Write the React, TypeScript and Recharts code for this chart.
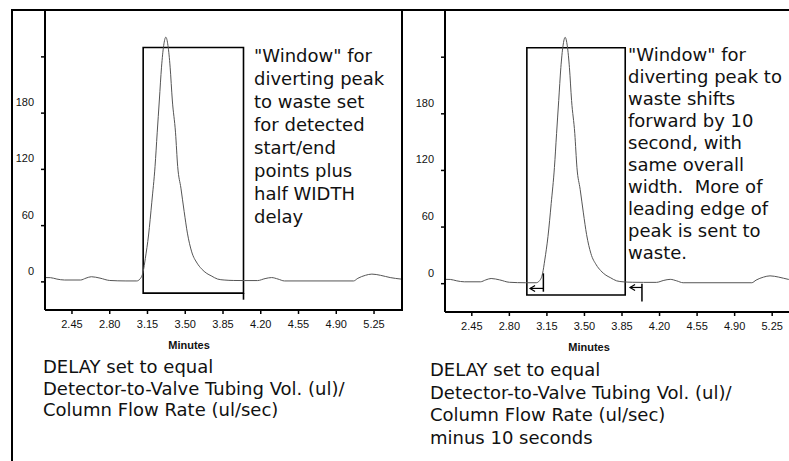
import { LineChart, Line, XAxis, YAxis, ReferenceArea, ReferenceLine, Label } from 'recharts';

// chromatogram trace (same run in both panels)
const minutes = [
  2.2, 2.25, 2.31, 2.38, 2.53, 2.58, 2.63, 2.71, 2.8, 2.95, 3.05, 3.08, 3.11, 3.13, 3.16,
  3.19, 3.22, 3.24, 3.26, 3.28, 3.3, 3.32, 3.34, 3.36, 3.38, 3.41, 3.43, 3.46, 3.49, 3.52,
  3.56, 3.61, 3.65, 3.7, 3.74, 3.8, 3.86, 3.95, 4.05, 4.17, 4.24, 4.3, 4.36, 4.42, 5.06,
  5.1, 5.17, 5.23, 5.31, 5.4, 5.5,
];
const signal = [
  4.6, 4.5, 3, 2, 2, 4, 5.5, 4, 1.5, 1, 1, 3, 11, 25, 50,
  85, 123, 159, 194, 229, 252, 261, 252, 229, 194, 159, 123, 100, 75, 52,
  32, 20, 14, 9, 6.5, 3, 2, 1.5, 1.4, 1.4, 3.5, 4.6, 3, 1, 1,
  3.8, 7, 8.3, 7, 4.6, 3,
];

const xTicks = [2.45, 2.8, 3.15, 3.5, 3.85, 4.2, 4.55, 4.9, 5.25];
const xTickLabels = ['2.45', '2.80', '3.15', '3.50', '3.85', '4.20', '4.55', '4.90', '5.25'];
const yTicks = [0, 60, 120, 180, 240];
const yTickLabels = ['0', '60', '120', '180', ''];

// diverting windows: start, end, top, bottom (minutes / signal units)
const leftWindow = [3.11, 4.04, 250, -12];
const leftWindowTail = -19;
const rightWindow = [2.963, 3.88, 250, -12];

// original window edges and where the arrows point to
const shiftEdges = [3.117, 4.036];
const shiftTargets = [2.993, 3.925];
const shiftTops = [11, 0];
const shiftBottoms = [-8.5, -19];
const shiftArrowY = [-5, -4];

const leftNote = ['"Window" for', 'diverting peak', 'to waste set', 'for detected', 'start/end', 'points plus', 'half WIDTH', 'delay'];
const rightNote = ['"Window" for', 'diverting peak to', 'waste shifts', 'forward by 10', 'second, with', 'same overall', 'width.  More of', 'leading edge of', 'peak is sent to', 'waste.'];
const leftCaption = ['DELAY set to equal', 'Detector-to-Valve Tubing Vol. (ul)/', 'Column Flow Rate (ul/sec)'];
const rightCaption = ['DELAY set to equal', 'Detector-to-Valve Tubing Vol. (ul)/', 'Column Flow Rate (ul/sec)', 'minus 10 seconds'];

const data = minutes.map((m, i) => ({ m, v: signal[i] }));

const tickFont = 'Liberation Sans, Arial, sans-serif';
const textFont = 'DejaVu Sans, Verdana, sans-serif';

const XTick = ({ x, y, payload }: any) => {
  const i = xTicks.indexOf(payload.value);
  return (
    <text x={x} y={y + 12} textAnchor="middle" fontSize={11} fontFamily={tickFont} fill="#111">
      {xTickLabels[i]}
    </text>
  );
};

const YTick = ({ x, y, payload }: any) => {
  const i = yTicks.indexOf(payload.value);
  return (
    <text x={x - 5} y={y - 7} textAnchor="end" fontSize={11} fontFamily={tickFont} fill="#111">
      {yTickLabels[i]}
    </text>
  );
};

const arrowShape = (p: any) => (
  <g>
    <line x1={p.x1} y1={p.y1} x2={p.x2} y2={p.y2} stroke="#000" strokeWidth={1.2} />
    <path
      d={`M${p.x2 + 5},${p.y2 - 3} L${p.x2},${p.y2} L${p.x2 + 5},${p.y2 + 3}`}
      fill="none"
      stroke="#000"
      strokeWidth={1.2}
    />
  </g>
);

function Panel({ left, width, plotHeight, win, shifted }: any) {
  return (
    <div style={{ position: 'absolute', left, top: 0 }}>
      <LineChart
        width={width}
        height={plotHeight + 10 + 45}
        data={data}
        margin={{ top: 10, right: 0, bottom: 0, left: 0 }}
      >
        <XAxis
          dataKey="m"
          type="number"
          domain={[2.2, 5.5]}
          ticks={xTicks}
          allowDataOverflow
          height={45}
          tick={<XTick />}
          tickSize={4}
          axisLine={{ stroke: '#000', strokeWidth: 2 }}
          tickLine={{ stroke: '#000', strokeWidth: 1.5 }}
        >
          <Label
            content={({ viewBox }: any) => (
              <text
                x={viewBox.x + 144}
                y={viewBox.y + 39}
                textAnchor="middle"
                fontSize={11}
                fontWeight="bold"
                fontFamily={tickFont}
                fill="#111"
              >
                Minutes
              </text>
            )}
          />
        </XAxis>
        <YAxis
          type="number"
          domain={[-30, 290]}
          ticks={yTicks}
          allowDataOverflow
          width={45}
          tick={<YTick />}
          tickSize={4}
          axisLine={{ stroke: '#000', strokeWidth: 2 }}
          tickLine={{ stroke: '#000', strokeWidth: 1.5 }}
        />
        <Line
          type="monotone"
          dataKey="v"
          stroke="#555"
          strokeWidth={1}
          dot={false}
          isAnimationActive={false}
        />
        <ReferenceArea
          x1={win[0]}
          x2={win[1]}
          y1={win[3]}
          y2={win[2]}
          fill="none"
          fillOpacity={0}
          stroke="#000"
          strokeWidth={1.6}
          ifOverflow="visible"
        />
        {!shifted && (
          <ReferenceLine
            segment={[{ x: win[1], y: win[3] }, { x: win[1], y: leftWindowTail }]}
            stroke="#000"
            strokeWidth={1.6}
            ifOverflow="visible"
          />
        )}
        {shifted &&
          shiftEdges.map((e, i) => (
            <ReferenceLine
              key={'v' + i}
              segment={[{ x: e, y: shiftTops[i] }, { x: e, y: shiftBottoms[i] }]}
              stroke="#000"
              strokeWidth={1.5}
              ifOverflow="visible"
            />
          ))}
        {shifted &&
          shiftEdges.map((e, i) => (
            <ReferenceLine
              key={'a' + i}
              segment={[{ x: e, y: shiftArrowY[i] }, { x: shiftTargets[i], y: shiftArrowY[i] }]}
              shape={arrowShape}
              ifOverflow="visible"
            />
          ))}
      </LineChart>
    </div>
  );
}

const textBlock = (lines: string[], left: number, top: number, lineHeight: number) => (
  <div
    style={{
      position: 'absolute',
      left,
      top,
      fontFamily: textFont,
      fontSize: 18,
      lineHeight: lineHeight + 'px',
      color: '#111',
      whiteSpace: 'pre',
    }}
  >
    {lines.map((l, i) => (
      <div key={i}>{l}</div>
    ))}
  </div>
);

export default function App() {
  return (
    <div
      style={{
        position: 'absolute',
        left: 0,
        top: 0,
        width: 789,
        height: 461,
        overflow: 'hidden',
        background: '#fff',
      }}
    >
      {/* frame */}
      <div style={{ position: 'absolute', left: 11, top: 9, width: 2, height: 452, background: '#000' }} />
      <div style={{ position: 'absolute', left: 11, top: 9, width: 778, height: 2, background: '#000' }} />
      <div style={{ position: 'absolute', left: 401, top: 9, width: 2, height: 302, background: '#000' }} />

      <Panel left={0} width={401} plotHeight={300} win={leftWindow} shifted={false} />
      <Panel left={400} width={399} plotHeight={302} win={rightWindow} shifted={true} />

      {textBlock(leftNote, 254, 44, 23)}
      {textBlock(rightNote, 628, 44, 22)}
      {textBlock(leftCaption, 43, 356, 21.5)}
      {textBlock(rightCaption, 430, 359, 22.7)}
    </div>
  );
}
